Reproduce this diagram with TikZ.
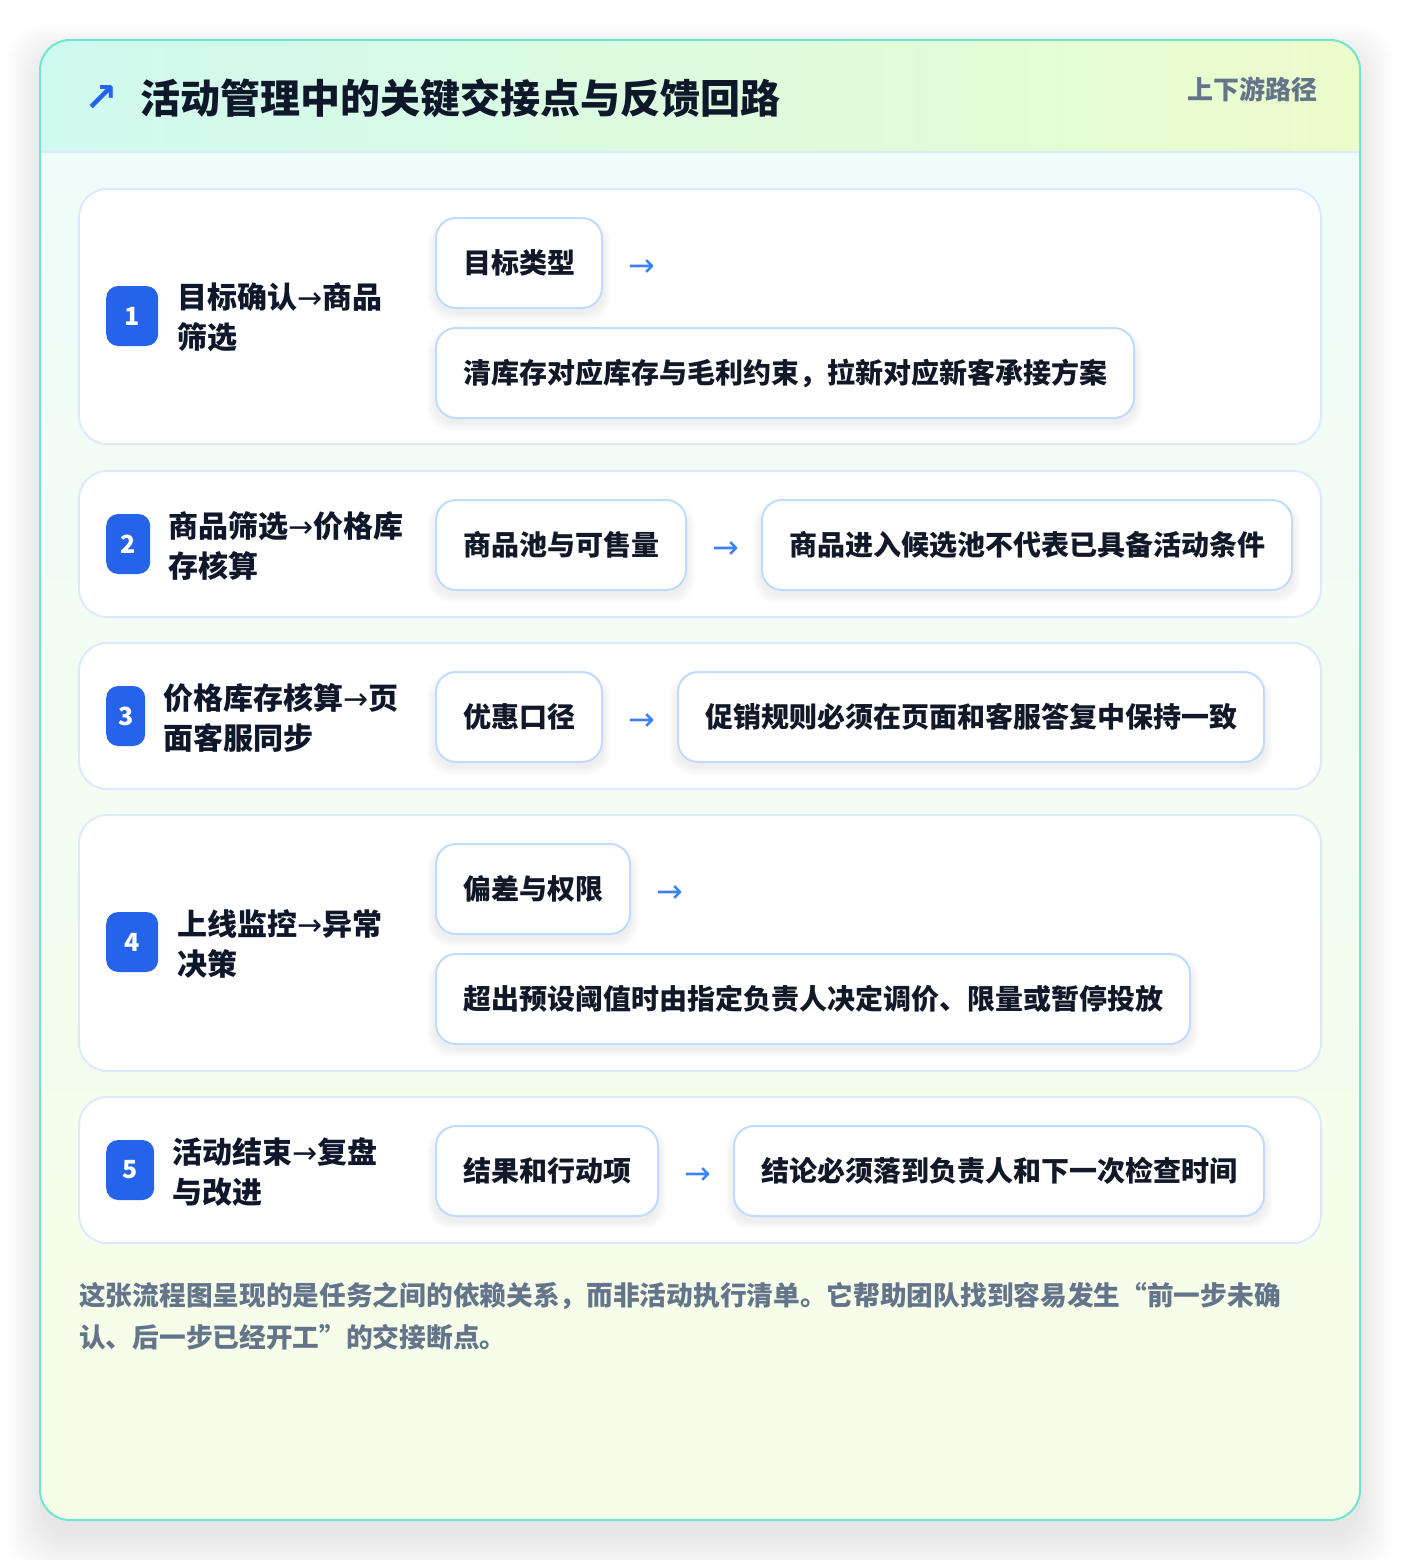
\documentclass[tikz,border=0pt]{standalone}
\usepackage{fontspec}
\setmainfont{Noto Sans CJK SC}
\newfontfamily\arrowfont{DejaVu Sans}
\usetikzlibrary{calc}
\definecolor{pagebg}{HTML}{FFFFFF}
\definecolor{hdl}{HTML}{CFFAF0}
\definecolor{hdr}{HTML}{ECFCCB}
\definecolor{bdt}{HTML}{EFFCF9}
\definecolor{bdb}{HTML}{F7FEE7}
\definecolor{cardborder}{HTML}{6EE7D2}
\definecolor{hdline}{HTML}{DBEAFE}
\definecolor{rowline}{HTML}{DBEAFE}
\definecolor{boxline}{HTML}{BFDBFE}
\definecolor{badgeblue}{HTML}{2563EB}
\definecolor{arrowblue}{HTML}{3B82F6}
\definecolor{titletext}{HTML}{0F172A}
\definecolor{graytext}{HTML}{64748B}
\definecolor{boxtext}{HTML}{111827}
\pgfdeclarelayer{bg}
\pgfdeclarelayer{shad}
\pgfsetlayers{bg,shad,main}
\tikzset{
  rowcard/.style={draw=rowline, line width=2pt, fill=white, rounded corners=28pt, minimum width=1242pt, inner sep=0pt},
  badge/.style={fill=badgeblue, rounded corners=12pt, text=white, minimum height=60pt, inner sep=0pt, anchor=west, font=\fontsize{25}{25}\selectfont\bfseries},
  lbl/.style={anchor=west, align=left, inner sep=0pt, text=titletext, font=\fontsize{30}{40}\selectfont\bfseries},
  stepbox/.style={draw=boxline, line width=2pt, fill=white, rounded corners=20pt, minimum height=90pt, inner xsep=27pt, inner ysep=0pt, anchor=north west, text=boxtext, font=\fontsize{28}{28}\selectfont\bfseries},
  arr/.style={text=arrowblue, inner sep=0pt, font=\arrowfont\fontsize{32}{32}\selectfont},
}
\begin{document}
\begin{tikzpicture}[x=1pt,y=-1pt]
\useasboundingbox (0,0) rectangle (1400,1560);
\begin{pgfonlayer}{bg}
  \fill[pagebg] (0,0) rectangle (1400,1560);
  % outer soft shadow
  \foreach \s in {0,3,...,33} {
    \fill[black,opacity=0.007,rounded corners=34pt] (40-\s,58-\s) rectangle (1360+\s,1538+\s);
  }
  \begin{scope}
    \clip[rounded corners=30pt] (40,40) rectangle (1360,1520);
    \shade[left color=hdl,right color=hdr] (40,40) rectangle (1360,152);
    \shade[top color=bdt,bottom color=bdb] (40,152) rectangle (1360,1520);
  \end{scope}
  \draw[hdline,line width=2pt] (41,152) -- (1359,152);
  \draw[cardborder,line width=2pt,rounded corners=30pt] (40,40) rectangle (1360,1520);
  % row cards
  \node[rowcard, minimum height=255pt] (r1) at (700,316.5) {};
  \node[rowcard, minimum height=146pt] (r2) at (700,544) {};
  \node[rowcard, minimum height=146pt] (r3) at (700,716) {};
  \node[rowcard, minimum height=256pt] (r4) at (700,943) {};
  \node[rowcard, minimum height=146pt] (r5) at (700,1170) {};
\end{pgfonlayer}

% header
\node[text=badgeblue, inner sep=0pt, font=\arrowfont\bfseries\fontsize{40}{40}\selectfont] (hicon) at (101,99) {↗};
\node[anchor=west, inner sep=0pt, text=titletext, font=\fontsize{40}{40}\selectfont\bfseries] (title) at (140,98) {活动管理中的关键交接点与反馈回路};
\node[anchor=east, inner sep=0pt, text=graytext, font=\fontsize{26}{26}\selectfont\bfseries] (tag) at (1318,89) {上下游路径};

% row 1
\node[badge, minimum width=52pt] (n1) at (106,316) {1};
\node[lbl] (l1) at (177,317.5) {目标确认{\arrowfont\mdseries →}商品\\筛选};
\node[stepbox] (a1) at (435,217) {目标类型};
\node[arr] (p1) at ($(a1.east)+(39,5)$) {→};
\node[stepbox] (b1) at (435,327) {清库存对应库存与毛利约束，拉新对应新客承接方案};

% row 2
\node[badge, minimum width=44pt] (n2) at (106,544) {2};
\node[lbl] (l2) at (168,546) {商品筛选{\arrowfont\mdseries →}价格库\\存核算};
\node[stepbox] (a2) at (435,499) {商品池与可售量};
\node[arr] (p2) at ($(a2.east)+(39,5)$) {→};
\node[stepbox] (b2) at (761,499) {商品进入候选池不代表已具备活动条件};

% row 3
\node[badge, minimum width=39pt] (n3) at (106,716) {3};
\node[lbl] (l3) at (163,718) {价格库存核算{\arrowfont\mdseries →}页\\面客服同步};
\node[stepbox] (a3) at (435,671) {优惠口径};
\node[arr] (p3) at ($(a3.east)+(39,5)$) {→};
\node[stepbox] (b3) at (677,671) {促销规则必须在页面和客服答复中保持一致};

% row 4
\node[badge, minimum width=52pt] (n4) at (106,942) {4};
\node[lbl] (l4) at (177,944) {上线监控{\arrowfont\mdseries →}异常\\决策};
\node[stepbox] (a4) at (435,843) {偏差与权限};
\node[arr] (p4) at ($(a4.east)+(39,5)$) {→};
\node[stepbox] (b4) at (435,953) {超出预设阈值时由指定负责人决定调价、限量或暂停投放};

% row 5
\node[badge, minimum width=48pt] (n5) at (106,1170) {5};
\node[lbl] (l5) at (172,1172) {活动结束{\arrowfont\mdseries →}复盘\\与改进};
\node[stepbox] (a5) at (435,1125) {结果和行动项};
\node[arr] (p5) at ($(a5.east)+(39,5)$) {→};
\node[stepbox] (b5) at (733,1125) {结论必须落到负责人和下一次检查时间};

% footer
\node[anchor=west, align=left, inner sep=0pt, text=graytext, font=\fontsize{26.7}{42}\selectfont\bfseries] (foot) at (79,1316) {这张流程图呈现的是任务之间的依赖关系，而非活动执行清单。它帮助团队找到容易发生“前一步未确\\认、后一步已经开工”的交接断点。};

% box shadows
\begin{pgfonlayer}{shad}
  \foreach \n in {a1,b1,a2,b2,a3,b3,a4,b4,a5,b5} {
    \foreach \s in {1,...,8} {
      \fill[black,opacity=0.007,rounded corners=22pt] ($(\n.south west)+(-\s,\s+4)$) rectangle ($(\n.north east)+(\s,10-\s)$);
    }
  }
\end{pgfonlayer}
\end{tikzpicture}
\end{document}
